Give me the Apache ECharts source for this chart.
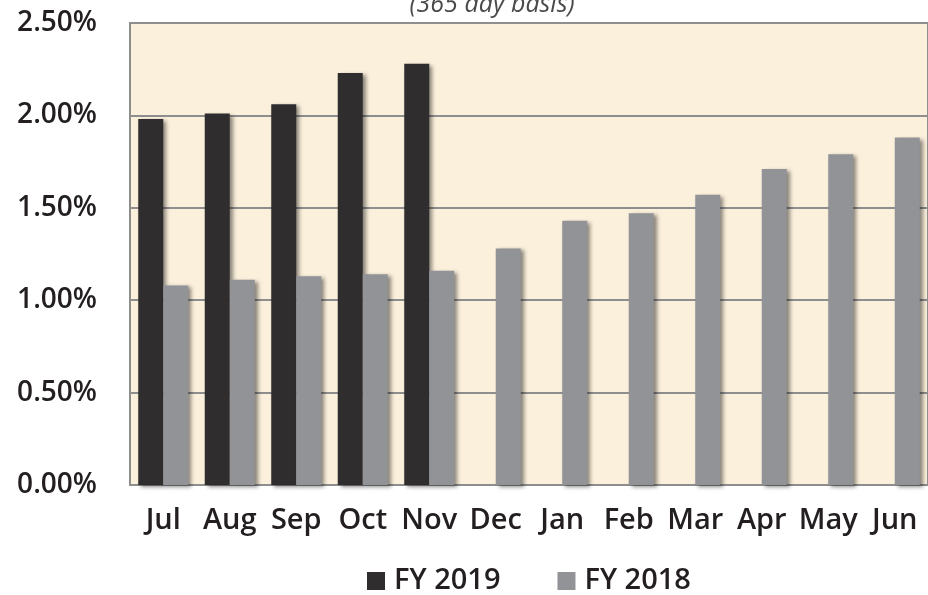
<!DOCTYPE html>
<html>
<head>
<meta charset="utf-8">
<script src="https://cdn.jsdelivr.net/npm/echarts@6/dist/echarts.min.js"></script>
<style>
  html, body { margin: 0; padding: 0; background: #fff; }
  #chart { width: 928px; height: 595px; }
</style>
</head>
<body>
<div id="chart"></div>
<script>
// data
var months = ["Jul", "Aug", "Sep", "Oct", "Nov", "Dec", "Jan", "Feb", "Mar", "Apr", "May", "Jun"];
var fy2019 = [1.98, 2.01, 2.06, 2.23, 2.28, null, null, null, null, null, null, null];
var fy2018 = [1.08, 1.11, 1.13, 1.14, 1.16, 1.28, 1.43, 1.47, 1.57, 1.71, 1.79, 1.88];

var FONT = "'Open Sans', 'Noto Sans', sans-serif";
var TEXT = "#231f20";

var chart = echarts.init(document.getElementById("chart"));

// bar shadow, like the original
var shadow = {
    shadowColor: "rgba(0,0,0,0.45)",
    shadowBlur: 4,
    shadowOffsetX: 3,
    shadowOffsetY: 2
};

chart.setOption({
    animation: false,
    backgroundColor: "#fff",
    title: {
        text: "(365 day basis)",
        left: 487,
        textAlign: "center",
        top: -13,
        textStyle: { fontFamily: FONT, fontSize: 25, lineHeight: 26, fontStyle: "italic", fontWeight: "normal", color: "#4a4a4a" }
    },
    grid: {
        left: 130, top: 23, bottom: 110, right: -10,
        show: true,
        backgroundColor: "#fbf0dc",
        borderColor: "#8e8e8e",
        borderWidth: 2
    },
    legend: {
        top: 566,
        left: 367,
        padding: 0,
        icon: "rect",
        itemWidth: 18,
        itemHeight: 18,
        itemGap: 57,
        textStyle: {
            fontFamily: FONT, fontSize: 29, lineHeight: 30, fontWeight: 600, color: TEXT,
            padding: [0, 0, 0, 4]
        },
        data: ["FY 2019", "FY 2018"]
    },
    xAxis: {
        type: "category",
        data: months,
        axisTick: { show: false },
        axisLine: { lineStyle: { color: "#8e8e8e", width: 2 } },
        axisLabel: { interval: 0, hideOverlap: false, margin: 21, fontFamily: FONT, fontSize: 29, fontWeight: 600, color: TEXT }
    },
    yAxis: {
        type: "value",
        min: 0,
        max: 2.5,
        interval: 0.5,
        axisLine: { show: false },
        axisTick: { show: false },
        splitLine: { lineStyle: { color: "#8e8e8e", width: 2 } },
        axisLabel: {
            margin: 33,
            fontFamily: FONT, fontSize: 28, fontWeight: 600, color: TEXT,
            formatter: function (v) { return v.toFixed(2) + "%"; }
        }
    },
    series: [
        {
            name: "FY 2019",
            type: "bar",
            data: fy2019,
            barWidth: 25,
            barGap: "0%",
            itemStyle: Object.assign({ color: "#2f2d2d" }, shadow)
        },
        {
            name: "FY 2018",
            type: "bar",
            data: fy2018,
            barWidth: 25,
            barGap: "0%",
            itemStyle: Object.assign({ color: "#929397" }, shadow)
        }
    ]
});
</script>
</body>
</html>
